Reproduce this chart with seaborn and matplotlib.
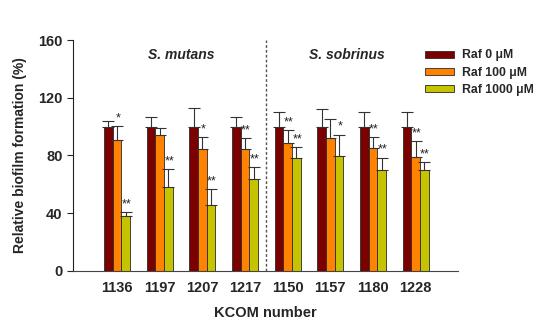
import matplotlib
matplotlib.use("Agg")
import matplotlib.pyplot as plt
import seaborn as sns
import pandas as pd
import numpy as np

strains = ["1136", "1197", "1207", "1217", "1150", "1157", "1180", "1228"]
groups = ["Raf 0 \u03bcM", "Raf 100 \u03bcM", "Raf 1000 \u03bcM"]
raf0 = [100, 100, 100, 100, 100, 100, 100, 100]
raf100 = [91, 94, 84.5, 84.5, 88.5, 92, 85, 79]
raf1000 = [38, 58, 46, 63.5, 78, 79.5, 70, 70]
err0 = [4, 7, 13, 7, 10, 12.5, 10, 10]
err100 = [9.5, 5, 8, 7.5, 9, 13, 8, 11]
err1000 = [3, 12.5, 10.5, 8.5, 8, 15, 8.5, 5.5]
sig100 = ["*", "", "*", "**", "**", "", "**", "**"]
sig1000 = ["**", "**", "**", "**", "**", "*", "**", "**"]
colors = ["#7B0000", "#FF8200", "#C6C400"]

rows = []
for g, vals in zip(groups, [raf0, raf100, raf1000]):
    for s, v in zip(strains, vals):
        rows.append({"strain": s, "group": g, "value": v})
df = pd.DataFrame(rows)

sns.set_style("ticks")
plt.rcParams["font.family"] = ["Liberation Sans", "DejaVu Sans"]
plt.rcParams["font.weight"] = "bold"

fig = plt.figure(figsize=(5.5, 3.34), dpi=100)
ax = fig.add_axes([0.133, 0.189, 0.700, 0.691])

sns.barplot(data=df, x="strain", y="value", hue="group", order=strains,
            hue_order=groups, palette=colors, width=0.61, errorbar=None,
            edgecolor="#2a2a2a", linewidth=0.6, ax=ax, saturation=1)

errs = [err0, err100, err1000]
sigs = [None, sig100, sig1000]
bar_containers = list(ax.containers)
for k, cont in enumerate(bar_containers):
    for i, bar in enumerate(cont.patches):
        xc = bar.get_x() + bar.get_width() / 2
        h = bar.get_height()
        e = errs[k][i]
        ax.errorbar([xc], [h], yerr=[[0], [e]], fmt="none", ecolor="#333333",
                    elinewidth=0.8, capsize=4.5, capthick=0.8)
        if sigs[k] is not None and sigs[k][i]:
            ax.text(xc + 0.02, h + e + 1.2, sigs[k][i], ha="center", va="bottom",
                    fontsize=9, fontweight="normal", color="#222222")

ax.axvline(3.5, ymin=0, ymax=1, color="#555555", linestyle=(0, (2, 1.5)),
           linewidth=1.0, clip_on=False)

ax.set_xlim(-1.03, 8.0)
ax.set_ylim(0, 160)
ax.set_yticks([0, 40, 80, 120, 160])
ax.tick_params(axis="y", labelsize=10.5, length=4, width=0.8, direction="out")
ax.tick_params(axis="x", labelsize=10.5, length=0, pad=7)
for lab in ax.get_xticklabels() + ax.get_yticklabels():
    lab.set_fontweight("bold")
ax.set_xlabel("KCOM number", fontsize=10.5, fontweight="bold", labelpad=8)
ax.set_ylabel("Relative biofilm formation (%)", fontsize=10, fontweight="bold",
              labelpad=8)
sns.despine(ax=ax)
ax.spines["left"].set_color("#222222")
ax.spines["bottom"].set_color("#444444")
ax.spines["left"].set_linewidth(0.8)
ax.spines["bottom"].set_linewidth(0.8)

ax.text(1.5, 150, "S. mutans", ha="center", va="center", fontsize=10,
        fontstyle="italic", fontweight="bold")
ax.text(5.4, 150, "S. sobrinus", ha="center", va="center", fontsize=10,
        fontstyle="italic", fontweight="bold")

leg = ax.legend(loc="upper left", bbox_to_anchor=(0.773, 0.852),
                bbox_transform=fig.transFigure, frameon=False,
                prop={"weight": "bold", "size": 8.8}, handlelength=2.35,
                handleheight=0.5, labelspacing=0.42, handletextpad=0.65,
                borderaxespad=0, borderpad=0)

fig.savefig("out.png", dpi=100)
